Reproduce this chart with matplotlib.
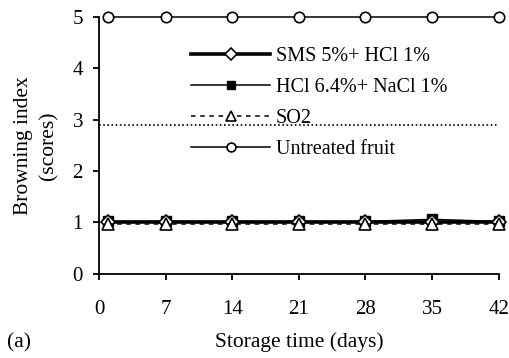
import matplotlib
matplotlib.use("Agg")
import matplotlib.pyplot as plt

plt.rcParams["font.family"] = ["Liberation Serif", "DejaVu Serif"]

# ── data ────────────────────────────────────────────────────────────────────
days = [1, 7, 14, 21, 28, 35, 42]
sms_hcl = [1.0, 1.0, 1.0, 1.0, 1.0, 1.0, 1.0]
hcl_nacl = [1.02, 1.02, 1.02, 1.02, 1.02, 1.06, 1.02]
so2 = [0.97, 0.97, 0.97, 0.97, 0.97, 0.97, 0.97]
untreated = [5.0, 5.0, 5.0, 5.0, 5.0, 5.0, 5.0]
threshold = 2.9
x_ticks = [0, 7, 14, 21, 28, 35, 42]
y_ticks = [0, 1, 2, 3, 4, 5]

fig = plt.figure(figsize=(5.1, 3.58), dpi=100)
ax = fig.add_axes([0.194, 0.235, 0.784, 0.718])

ax.plot([0, 42], [threshold, threshold], color="black", lw=1.2, ls=(0, (1, 1.5)))
ax.plot(days, untreated, color="black", lw=1.1, marker="o", ms=7.5,
        mfc="white", mec="black", mew=1.2, clip_on=False, label="Untreated fruit")
ax.plot(days, hcl_nacl, color="black", lw=1.1, marker="s", ms=7.5,
        mfc="black", mec="black", clip_on=False, label="HCl 6.4%+ NaCl 1%")
ax.plot(days, sms_hcl, color="black", lw=2.6, marker="D", ms=7,
        mfc="white", mec="black", mew=1.2, clip_on=False, label="SMS 5%+ HCl 1%")
ax.plot(days, so2, color="black", lw=1.1, ls=(0, (3, 3)), marker="^", ms=8,
        mfc="white", mec="black", mew=1.2, clip_on=False, label="SO2")

h, l = ax.get_legend_handles_labels()
order = [2, 1, 3, 0]
ax.legend([h[i] for i in order], [l[i] for i in order], loc="upper left",
          bbox_to_anchor=(0.186, 0.955), frameon=False, fontsize=14.5,
          handlelength=3.9, handletextpad=0.3, labelspacing=0.6,
          markerscale=0.85)

ax.set_xlim(0, 42)
ax.set_ylim(0, 5)
ax.set_xticks(x_ticks)
ax.set_yticks(y_ticks)
for s in ("top", "right"):
    ax.spines[s].set_visible(False)
ax.spines["left"].set_linewidth(1.3)
ax.spines["bottom"].set_linewidth(1.3)
ax.tick_params(direction="out", length=4.5, width=1.3, labelsize=15, pad=7)
ax.tick_params(axis="x", pad=14)

ax.set_xlabel("Storage time (days)", fontsize=15.5, labelpad=10)
ax.set_ylabel("Browning index\n(scores)", fontsize=15.5, labelpad=10,
              linespacing=1.45)
fig.text(0.013, 0.03, "(a)", fontsize=15.5)

fig.savefig("out.png", dpi=100)
